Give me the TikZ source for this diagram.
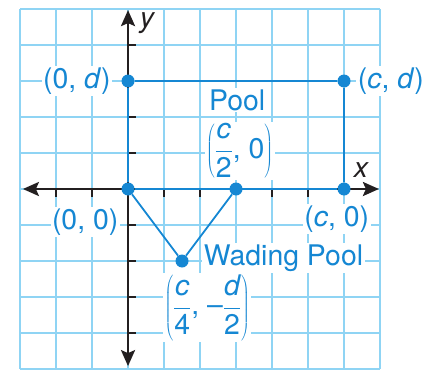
\documentclass[tikz,border=0pt]{standalone}
\usepackage{fix-cm}
\usepackage{fontspec}
\setmainfont{TeX Gyre Heros}
\usetikzlibrary{arrows.meta}
\definecolor{gridblue}{HTML}{8FD4F4}
\definecolor{poolblue}{HTML}{1587D3}
\definecolor{axisblack}{HTML}{231F20}
\newcommand{\frc}[2]{\displaystyle\frac{\mbox{#1}}{\mbox{#2}}}

\begin{document}
\begin{tikzpicture}[x=36bp,y=36bp,
  lbl/.style={font=\fontsize{28.5}{31}\selectfont, text=poolblue, fill=white, inner sep=1.5bp},
  axlbl/.style={font=\fontsize{28.5}{31}\selectfont\itshape, text=axisblack, inner sep=1bp},
  dot/.style={circle, fill=poolblue, inner sep=0pt, minimum size=13bp},
  axisline/.style={axisblack, line width=2.6bp, {Stealth[length=16bp,width=14bp,inset=3bp]}-{Stealth[length=16bp,width=14bp,inset=3bp]}},
  tickline/.style={axisblack, line width=1.4bp},
  poolline/.style={poolblue, line width=2.6bp},
  wadeline/.style={poolblue, line width=1.8bp}]
\useasboundingbox (-3.556,-5.056) rectangle (8.444,5.25);
\draw[gridblue, line width=1.4bp, step={(1,1)}] (-3,-5) grid (7,5);
\coordinate (xl) at (-2.92,0);
\coordinate (xr) at (6.97,0);
\coordinate (yt) at (0,4.97);
\coordinate (yb) at (0,-4.92);
\draw[axisline] (xl) -- (xr);
\draw[axisline] (yb) -- (yt);
\foreach \u in {-2,-1,1,2,4,5}
  \draw[tickline] (\u,0) -- (\u,-0.22);
\foreach \v in {-4,-3,-2,-1,1,2,4}
  \draw[tickline] (0,\v) -- (0.22,\v);
\node[axlbl] (xlab) at (6.47,0.53) {x};
\node[axlbl] (ylab) at (0.53,4.6) {y};
\node[lbl] (lbD0) at (-1.42,3) {(0, \textit{d})};
\node[lbl] (lbCD) at (7.3,3) {(\textit{c}, \textit{d})};
\node[lbl] (lbPool) at (3.03,2.47) {Pool};
\node[lbl] (lbM) at (3.1,1.06) {$\left(\frc{\itshape c}{2}\mbox{, 0}\right)$};
\node[lbl] (lbO) at (-1.19,-0.92) {(0, 0)};
\node[lbl] (lbC0) at (5.8,-0.83) {(\textit{c}, 0)};
\node[lbl] (lbWade) at (4.32,-1.92) {Wading Pool};
\node[lbl] (lbW) at (2.2,-3.3) {$\left(\frc{\itshape c}{4}\mbox{, –}\frc{\itshape d}{2}\right)$};
\node[dot] (O) at (0,0) {};
\node[dot] (D0) at (0,3) {};
\node[dot] (CD) at (6,3) {};
\node[dot] (C0) at (6,0) {};
\node[dot] (M) at (3,0) {};
\node[dot] (W) at (1.5,-2) {};
\draw[poolline] (O) -- (C0);
\draw[poolline] (C0) -- (CD);
\draw[poolline] (CD) -- (D0);
\draw[poolline] (D0) -- (O);
\draw[wadeline] (O) -- (W);
\draw[wadeline] (W) -- (M);
\end{tikzpicture}
\end{document}
